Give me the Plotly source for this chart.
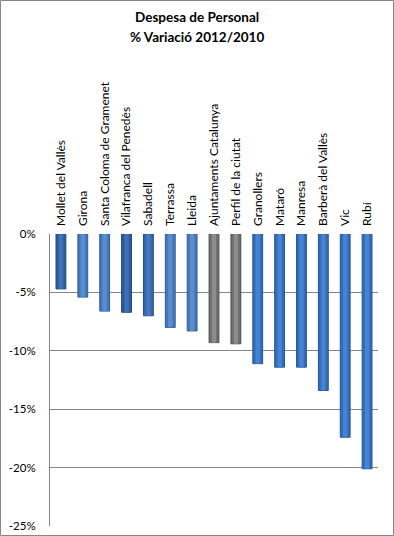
import plotly.graph_objects as go

categories = ["Mollet del Vallès", "Girona", "Santa Coloma de Gramenet",
              "Vilafranca del Penedès", "Sabadell", "Terrassa", "Lleida",
              "Ajuntaments Catalunya", "Perfil de la ciutat", "Granollers",
              "Mataró", "Manresa", "Barberà del Vallès", "Vic", "Rubí"]
values = [-4.7, -5.4, -6.6, -6.7, -7.0, -8.0, -8.3, -9.3, -9.4,
          -11.1, -11.4, -11.4, -13.4, -17.4, -20.1]
bar_colors = ["#2f5c9c", "#4577b9", "#4577b9", "#2d5a9a", "#3366aa", "#4577b9", "#4577b9",
              "#6e6e6e", "#6e6e6e", "#336dba", "#336dba", "#336dba", "#336dba", "#336dba", "#336dba"]
highlight_colors = ["#3f72b8", "#5a8dd0", "#5a8dd0", "#3d70b6", "#4479c2", "#5a8dd0", "#5a8dd0",
                    "#8c8c8c", "#8c8c8c", "#4683d2", "#4683d2", "#4683d2", "#4683d2", "#4683d2", "#4683d2"]
edge_colors = ["#224678", "#325d96", "#325d96", "#214477", "#264f88", "#325d96", "#325d96",
               "#505050", "#505050", "#285490", "#285490", "#285490", "#285490", "#285490", "#285490"]
y_ticks = [0, -5, -10, -15, -20, -25]
y_tick_labels = ["0%", "-5%", "-10%", "-15%", "-20%", "-25%"]
title_lines = ["Despesa de Personal", "% Variació 2012/2010"]

fig = go.Figure()
fig.add_trace(go.Bar(
    x=categories, y=values, width=0.45,
    marker=dict(color=bar_colors, line=dict(color=edge_colors, width=1)),
    hoverinfo="x+y",
))
fig.add_trace(go.Bar(
    x=categories, y=values, width=0.2,
    marker=dict(color=highlight_colors, line=dict(width=0)),
    hoverinfo="skip",
))

W, H = 394, 536
ml, mr, mt, mb = 50, 16, 234, 10
pw, ph = W - ml - mr, H - mt - mb

fig.update_layout(
    width=W, height=H,
    barmode="overlay",
    margin=dict(l=ml, r=mr, t=mt, b=mb, autoexpand=False),
    paper_bgcolor="white", plot_bgcolor="white",
    showlegend=False,
    font=dict(family="Lato, Liberation Sans, sans-serif", color="black"),
    xaxis=dict(side="top", tickangle=-90, tickfont=dict(size=12), automargin=False,
               showline=False, showgrid=False, ticks="", ticklen=0, ticklabelstandoff=7),
    yaxis=dict(range=[-25, 0], tickvals=y_ticks, ticktext=y_tick_labels, automargin=False,
               tickfont=dict(size=11.5), showgrid=True, gridcolor="#868686", gridwidth=1,
               showline=True, linecolor="#868686", linewidth=1, zeroline=False,
               ticks="", ticklabelstandoff=11),
)

for i, line in enumerate(title_lines):
    py = 17 + 20 * i
    fig.add_annotation(text="<b>" + line + "</b>", xref="paper", yref="paper",
                       x=(197 - ml) / pw, y=(H - mb - py) / ph,
                       xanchor="center", yanchor="middle", showarrow=False,
                       font=dict(size=13.5, color="black",
                                 family="Lato, Liberation Sans, sans-serif"))

fig.add_shape(type="rect", xref="paper", yref="paper",
              x0=(0.5 - ml) / pw, x1=(W - 0.5 - ml) / pw,
              y0=(0.5 - mb) / ph, y1=(H - 0.5 - mb) / ph,
              line=dict(color="#868686", width=1), fillcolor="rgba(0,0,0,0)", layer="above")

fig.write_html("out.html", config={"displayModeBar": False},
               post_script="document.body.style.margin='0';")
